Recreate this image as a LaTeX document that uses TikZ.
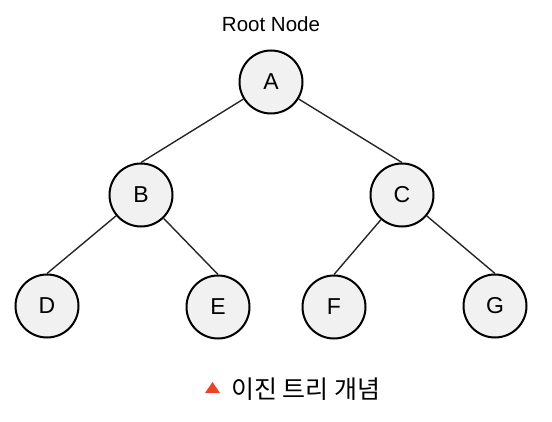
\documentclass[tikz,border=0pt]{standalone}
\usepackage{fontspec}
\setmainfont{Liberation Sans}
\newfontfamily\kofont{Noto Sans CJK KR}
\begin{document}
\begin{tikzpicture}[x=1pt,y=-1pt,
  tnode/.style={circle,draw=black,line width=2pt,fill=gray!11,minimum size=63pt,inner sep=0pt,font=\fontsize{23}{23}\selectfont},
  edge/.style={draw=black!85,line width=1.4pt}]
\useasboundingbox (0,0) rectangle (552,422);
\node (root) at (271,24) {\fontsize{20.5}{20.5}\selectfont Root Node};
\node[tnode] (A) at (271,82) {A};
\node[tnode] (B) at (141,195) {B};
\node[tnode] (C) at (402,195) {C};
\node[tnode] (D) at (47,306) {D};
\node[tnode] (E) at (218,307) {E};
\node[tnode] (F) at (334,307) {F};
\node[tnode] (G) at (495,306) {G};
\draw[edge] (A) -- (B.north);
\draw[edge] (A) -- (C.north);
\draw[edge] (B) -- (D.north);
\draw[edge] (B) -- (E.north);
\draw[edge] (C) -- (F.north);
\draw[edge] (C) -- (G.north);
\fill[fill={rgb,255:red,232;green,68;blue,40}] (205,393) -- (220,393) -- (212.5,382) -- cycle;
\node[anchor=west,inner sep=0pt] (cap) at (231,389) {\kofont\fontsize{25}{25}\selectfont 이진 트리 개념};
\end{tikzpicture}
\end{document}
